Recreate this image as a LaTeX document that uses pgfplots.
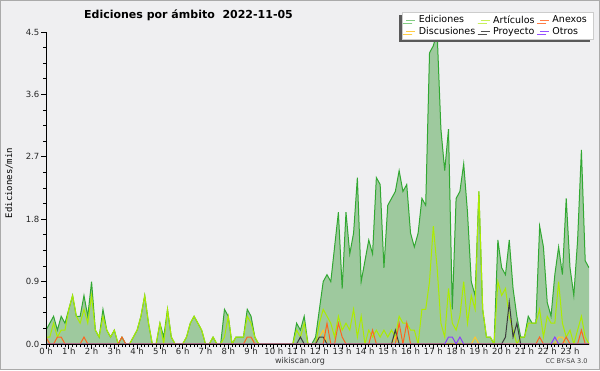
\documentclass[border=0pt]{standalone}
\usepackage{fontspec}
\setmainfont{DejaVu Sans}
\newfontfamily\labmono{DejaVu Sans Mono}
\usepackage{pgfplots}
\usepackage{pgfplotstable}
\pgfplotsset{compat=1.18}
\usetikzlibrary{shadows}
\definecolor{bgc}{RGB}{239,239,241}
\definecolor{framec}{RGB}{170,170,170}
\definecolor{gridc}{RGB}{200,200,200}
\definecolor{lineE}{RGB}{50,168,50}
\definecolor{fillE}{RGB}{158,201,158}
\definecolor{lineA}{RGB}{172,236,0}
\definecolor{lineD}{RGB}{255,200,40}
\definecolor{lineP}{RGB}{60,60,60}
\definecolor{lineX}{RGB}{255,100,30}
\definecolor{lineO}{RGB}{140,60,255}
\definecolor{legE}{RGB}{130,205,130}
\definecolor{legA}{RGB}{200,240,90}
\definecolor{legX}{RGB}{255,125,70}
\definecolor{legD}{RGB}{255,205,70}
\definecolor{legP}{RGB}{80,80,80}
\definecolor{legO}{RGB}{150,80,255}
\pgfplotsset{
  layers/mylayers/.define layer set={
    axis background,axis grid,pre main,main,axis ticks,axis lines,axis tick labels,axis descriptions,axis foreground
  }{
    grid style={/pgfplots/on layer=axis grid},
    tick style={/pgfplots/on layer=axis ticks},
    axis line style={/pgfplots/on layer=axis lines},
    label style={/pgfplots/on layer=axis descriptions},
    legend style={/pgfplots/on layer=axis descriptions},
    title style={/pgfplots/on layer=axis descriptions},
    ticklabel style={/pgfplots/on layer=axis tick labels},
  },
}
\pgfplotstableread{
i E A D P X O
0 0.2 0.1 0 0 0.1 0
1 0.3 0.1 0 0 0 0
2 0.4 0.3 0 0 0 0
3 0.2 0.1 0 0 0.1 0
4 0.4 0.2 0 0 0.1 0
5 0.3 0.2 0 0 0 0
6 0.5 0.5 0 0 0 0
7 0.7 0.7 0 0 0 0
8 0.4 0.4 0 0 0 0
9 0.4 0.3 0 0 0 0
10 0.7 0.5 0 0 0.1 0
11 0.4 0.3 0 0 0 0
12 0.9 0.7 0 0 0 0
13 0.2 0.2 0 0 0 0
14 0.1 0.1 0 0 0 0
15 0.5 0.4 0 0 0 0
16 0.2 0.2 0 0 0 0
17 0.1 0.1 0 0 0 0
18 0.2 0.2 0 0 0 0
19 0 0 0 0 0 0
20 0.1 0 0 0 0.1 0
21 0 0 0 0 0 0
22 0 0 0 0 0 0
23 0.1 0.1 0 0 0 0
24 0.2 0.2 0 0 0 0
25 0.4 0.4 0 0 0 0
26 0.7 0.7 0 0 0 0
27 0.3 0.3 0 0 0 0
28 0 0 0 0 0 0
29 0 0 0 0 0 0
30 0.3 0.3 0 0 0 0
31 0.1 0 0 0 0 0
32 0.5 0.5 0 0 0 0
33 0.1 0.1 0 0 0 0
34 0 0 0 0 0 0
35 0 0 0 0 0 0
36 0 0 0 0 0 0
37 0.1 0.1 0 0 0 0
38 0.3 0.3 0 0 0 0
39 0.4 0.4 0 0 0 0
40 0.3 0.3 0 0 0 0
41 0.2 0.2 0 0 0 0
42 0 0 0 0 0 0
43 0 0 0 0 0 0
44 0.1 0.1 0 0 0 0
45 0 0 0 0 0 0
46 0 0 0 0 0 0
47 0.5 0.1 0 0 0 0
48 0.4 0.4 0 0 0 0
49 0 0 0 0 0 0
50 0.1 0.1 0 0 0 0
51 0.1 0.1 0 0 0 0
52 0.1 0.1 0 0 0 0
53 0.5 0.4 0 0 0.1 0
54 0.4 0.3 0 0 0.1 0
55 0.1 0.1 0 0 0 0
56 0 0 0 0 0 0
57 0 0 0 0 0 0
58 0 0 0 0 0 0
59 0 0 0 0 0 0
60 0 0 0 0 0 0
61 0 0 0 0 0 0
62 0 0 0 0 0 0
63 0 0 0 0 0 0
64 0 0 0 0 0 0
65 0 0 0 0 0 0
66 0.3 0.2 0 0 0 0
67 0.2 0.1 0 0.1 0 0
68 0.4 0.3 0 0 0 0
69 0 0 0 0 0 0
70 0 0 0 0 0 0
71 0.1 0 0 0 0 0
72 0.5 0.3 0.1 0.1 0 0
73 0.9 0.5 0.2 0.1 0 0
74 1.0 0.4 0 0 0.3 0
75 0.9 0.3 0 0 0 0
76 1.4 0.1 0 0 0 0
77 1.9 0.4 0 0 0.3 0
78 0.8 0.2 0 0 0.1 0
79 1.9 0.3 0 0 0 0
80 1.3 0.2 0 0 0 0
81 1.6 0.5 0 0 0 0
82 2.4 0.1 0 0 0 0
83 0.9 0.4 0 0 0 0
84 1.2 0 0 0 0 0
85 1.5 0.2 0 0 0 0
86 1.3 0.1 0 0 0.2 0
87 2.4 0.2 0 0 0 0
88 2.3 0.1 0 0 0 0
89 1.1 0.2 0 0 0 0
90 2.0 0.1 0 0 0 0
91 2.1 0.2 0 0 0 0
92 2.2 0.1 0.1 0.2 0 0
93 2.5 0.4 0 0 0.3 0
94 2.2 0.3 0 0 0 0
95 2.3 0.3 0 0 0.3 0
96 1.6 0.2 0 0 0 0
97 1.4 0.2 0 0 0 0
98 1.6 0 0 0 0 0
99 2.1 0.5 0 0 0 0
100 2.0 0.5 0 0 0 0
101 4.2 0.9 0 0 0 0
102 4.3 1.7 0 0 0 0
103 4.5 1.1 0 0 0 0
104 3.1 0.3 0 0 0 0
105 2.5 0.1 0 0 0 0
106 3.1 0.8 0 0 0 0.1
107 0.5 0.3 0 0 0 0.1
108 2.1 0.2 0 0 0 0
109 2.2 0.4 0 0 0 0.1
110 2.6 0.9 0 0 0 0
111 1.9 0.3 0 0 0 0
112 0.9 0.7 0 0 0 0
113 0.7 0.5 0.1 0 0 0
114 2.2 2.2 0 0 0 0
115 0.5 0.5 0 0 0 0
116 0.1 0.1 0 0 0 0
117 0.1 0.1 0 0 0 0
118 0 0 0 0 0 0
119 1.5 0.9 0 0 0 0
120 1.1 0.7 0 0 0 0
121 1.0 0.8 0 0.1 0 0
122 1.5 0.4 0 0.6 0 0
123 0.8 0.2 0 0.1 0 0
124 0.4 0 0 0.3 0 0
125 0.1 0.1 0 0 0 0
126 0.1 0.1 0 0 0 0
127 0.4 0.3 0 0 0 0
128 0.3 0.3 0 0 0 0
129 0.3 0.3 0 0 0 0
130 1.7 0.5 0 0 0.1 0
131 1.4 0.1 0 0 0 0
132 0.6 0.4 0 0 0 0
133 0.4 0.3 0 0 0 0
134 1.0 0.3 0 0 0 0.1
135 1.4 0.9 0.1 0 0 0
136 1.0 0.3 0.1 0 0 0
137 2.1 0.1 0 0 0.1 0
138 1.1 0.2 0 0 0 0
139 0.7 0 0 0 0 0
140 1.5 0.2 0 0 0 0
141 2.8 0.4 0 0 0.2 0
142 1.2 0.1 0 0 0 0
143 1.1 0 0 0 0 0
}\data
\begin{document}
\begin{tikzpicture}[x=1pt,y=1pt]
\fill[bgc] (0,0) rectangle (600,370);
\draw[framec, line width=1.2pt] (0.6,0.6) rectangle (599.4,369.4);
\node[font=\bfseries\fontsize{11}{13}\selectfont, anchor=center] at (188.5,355) {Ediciones por ámbito\ \ 2022-11-05};
\node[rotate=90, font=\labmono\fontsize{9}{11}\selectfont] at (9,187) {Ediciones/min};
\node[font=\fontsize{8}{9}\selectfont, text=black!80] at (300,8.5) {wikiscan.org};
\node[anchor=east, font=\fontsize{6.5}{8}\selectfont, text=black!75] at (591,8.5) {CC BY-SA 3.0};
\begin{axis}[
  set layers=mylayers,
  at={(46pt,26pt)}, anchor=south west,
  scale only axis, width=543pt, height=312pt,
  xmin=0, xmax=143, ymin=0, ymax=4.5,
  enlargelimits=false,
  axis x line=bottom, axis y line=left,
  axis line style={-, black, line width=0.9pt},
  every outer x axis line/.append style={-},
  every outer y axis line/.append style={-},
  tick align=outside,
  major tick length=5pt, minor tick length=3pt,
  tick style={black, line width=0.8pt},
  xtick={0,6,...,138},
  xticklabels={\mbox{0 h},\mbox{1 h},\mbox{2 h},\mbox{3 h},\mbox{4 h},\mbox{5 h},\mbox{6 h},\mbox{7 h},\mbox{8 h},\mbox{9 h},\mbox{10 h},\mbox{11 h},\mbox{12 h},\mbox{13 h},\mbox{14 h},\mbox{15 h},\mbox{16 h},\mbox{17 h},\mbox{18 h},\mbox{19 h},\mbox{20 h},\mbox{21 h},\mbox{22 h},\mbox{23 h}},
  minor x tick num=5,
  ytick={0,0.9,1.8,2.7,3.6,4.5},
  minor y tick num=3,
  /pgf/number format/assume math mode=true,
  /pgf/number format/fixed, /pgf/number format/fixed zerofill, /pgf/number format/precision=1,
  ticklabel style={font=\fontsize{8.5}{9}\selectfont, text=black!85},
  xticklabel style={inner sep=1pt, yshift=2.5pt},
  yticklabel style={inner sep=1.5pt},
  ymajorgrids, grid style={gridc, line width=0.8pt},
  legend columns=3,
  legend cell align=left,
  legend image code/.code={\draw[#1] (0pt,0pt) -- (9pt,0pt);},
  legend style={at={(1.0074,1.065)}, anchor=north east,
    fill=white, draw=gray!40, line width=0.5pt,
    drop shadow={shadow xshift=-3pt, shadow yshift=-3pt, fill=black!65, opacity=1},
    font=\fontsize{9.5}{10}\selectfont, inner xsep=4pt, inner ysep=1.5pt,
    row sep=-1.5pt,
    /tikz/every even column/.append style={column sep=3pt},
    /tikz/every odd column/.append style={column sep=1pt}},
]
\addplot[fill=fillE, draw=none, forget plot] table[x=i,y=E]{\data} \closedcycle;
\addplot[lineE, line width=1pt, forget plot] table[x=i,y=E]{\data};
\addplot[lineA, line width=1pt, forget plot] table[x=i,y=A]{\data};
\addplot[lineD, line width=1pt, forget plot] table[x=i,y=D]{\data};
\addplot[lineP, line width=1pt, forget plot] table[x=i,y=P]{\data};
\addplot[lineX, line width=1pt, forget plot] table[x=i,y=X]{\data};
\addplot[lineO, line width=1pt, forget plot] table[x=i,y=O]{\data};
\addlegendimage{legE, line width=0.9pt}
\addlegendentry{Ediciones}
\addlegendimage{legA, line width=0.9pt}
\addlegendentry{Artículos}
\addlegendimage{legX, line width=0.9pt}
\addlegendentry{Anexos}
\addlegendimage{legD, line width=0.9pt}
\addlegendentry{Discusiones}
\addlegendimage{legP, line width=0.9pt}
\addlegendentry{Proyecto}
\addlegendimage{legO, line width=0.9pt}
\addlegendentry{Otros}
\end{axis}
\end{tikzpicture}
\end{document}
